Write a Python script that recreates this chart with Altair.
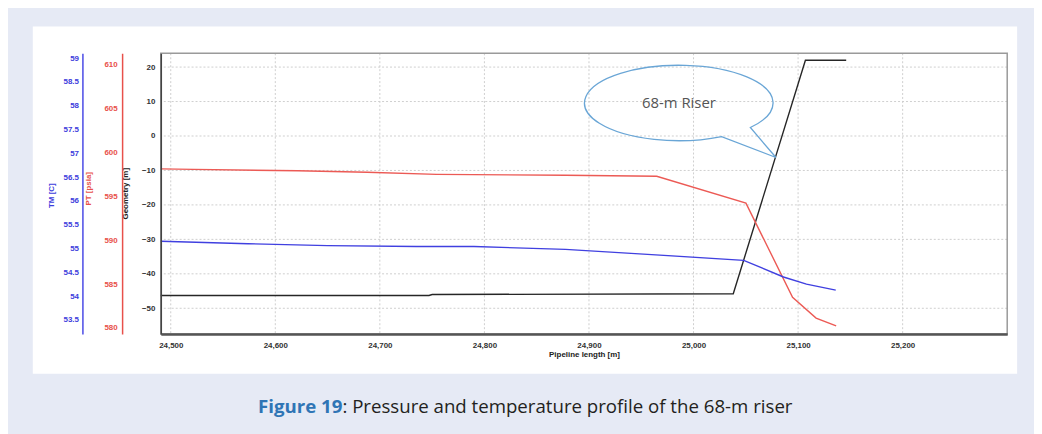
import altair as alt
import pandas as pd

# ---- data ----
x_ticks = [24500, 24600, 24700, 24800, 24900, 25000, 25100, 25200]
geo_ticks = [-50, -40, -30, -20, -10, 0, 10, 20]
pt_ticks = [580, 585, 590, 595, 600, 605, 610]
tm_ticks = [53.5, 54, 54.5, 55, 55.5, 56, 56.5, 57, 57.5, 58, 58.5, 59]

geo_x = [24490.5, 24747, 24750, 25038, 25107, 25146]
geo_y = [-46.3, -46.3, -46.0, -45.8, 22.0, 22.0]

pt_x = [24490.5, 24521.8, 24621.4, 24687.8, 24754.2, 24877.5, 24964.8, 25050.1, 25094.7, 25117.2, 25136.4]
pt_y = [598.10, 598.05, 597.88, 597.71, 597.48, 597.37, 597.26, 594.21, 583.50, 581.13, 580.23]

tm_x = [24490.5, 24574, 24650, 24735, 24790, 24877.5, 24956, 25048, 25086, 25108, 25136]
tm_y = [55.15, 55.10, 55.06, 55.04, 55.04, 54.98, 54.875, 54.75, 54.40, 54.25, 54.125]

callout_x = [24986]
callout_y = [9.6]
callout_text = ["68-m Riser"]

caption_bold = ["Figure 19"]
caption_rest = [": Pressure and temperature profile of the 68-m riser"]

# ---- styling ----
LAV = "#e6eaf5"
FONT = "Liberation Sans"
W, H = 853, 283

xs = alt.Scale(domain=[24490.5, 25300], nice=False, zero=False)
geo_s = alt.Scale(domain=[-57.5, 24], nice=False, zero=False)
pt_s = alt.Scale(domain=[579.3, 611.25], nice=False, zero=False)
tm_s = alt.Scale(domain=[53.2, 59.1], nice=False, zero=False)

x_axis = alt.Axis(
    values=x_ticks, format=",d", title="Pipeline length [m]", grid=False, zindex=1,
    ticks=False, labelPadding=7, titlePadding=2, labelFont=FONT, labelFontSize=8,
    labelFontWeight="bold", labelColor="#333333", titleFont=FONT, titleFontSize=8,
    titleFontWeight="bold", titleColor="#222222", domainColor="#555555",
    domainWidth=2.5)

def X(field):
    return alt.X(field, scale=xs, axis=x_axis)

one = pd.DataFrame({"a": [0]})

bg_lav = alt.Chart(one).mark_rect(fill=LAV).encode(
    x=alt.value(-154), x2=alt.value(880), y=alt.value(-44), y2=alt.value(382))
bg_white = alt.Chart(one).mark_rect(fill="#ffffff").encode(
    x=alt.value(-129), x2=alt.value(863), y=alt.value(-27), y2=alt.value(323))
frame = alt.Chart(one).mark_rect(fillOpacity=0, stroke="#9a9a9a", strokeWidth=1.5).encode(
    x=alt.value(0), x2=alt.value(W), y=alt.value(0), y2=alt.value(H))

vgrid = alt.Chart(pd.DataFrame({"v": x_ticks})).mark_rule(
    color="#cfcfcf", strokeDash=[2, 2], strokeWidth=1).encode(
    x=X("v:Q"))
hgrid = alt.Chart(pd.DataFrame({"v": geo_ticks})).mark_rule(
    color="#cfcfcf", strokeDash=[2, 2], strokeWidth=1).encode(
    y=alt.Y("v:Q", scale=geo_s, axis=None))

geo_line = alt.Chart(pd.DataFrame({"x": geo_x, "y": geo_y})).mark_line(
    color="#262626", strokeWidth=1.4).encode(
    x=X("x:Q"),
    y=alt.Y("y:Q", scale=geo_s, axis=alt.Axis(
        values=geo_ticks, orient="left", title="Geometry [m]", grid=False, zindex=1,
        ticks=False, labelPadding=6, labelFont=FONT, labelFontSize=8,
        labelFontWeight="bold", labelColor="#333333", titleFont=FONT, titleFontSize=8,
        titleFontWeight="bold", titleColor="#222222", titleX=-36, titleY=141,
        titleBaseline="middle", titleAngle=-90, domainColor="#444444", domainWidth=1.5)))

bubble_path = "M 0.453 0.357 A 1 0.4 0 1 1 0.758 0.261 L 1.03 0.579 Z"
callout_df = pd.DataFrame({"x": callout_x, "y": callout_y, "t": callout_text})
bubble = alt.Chart(callout_df).mark_point(
    shape=bubble_path, size=36100, filled=False, stroke="#6aa6d6",
    strokeWidth=1.3, opacity=1).encode(
    x=X("x:Q"), y=alt.Y("y:Q", scale=geo_s, axis=None))
callout_label = alt.Chart(callout_df).mark_text(
    font="Open Sans", fontSize=15, color="#555555").encode(
    x=X("x:Q"), y=alt.Y("y:Q", scale=geo_s, axis=None),
    text="t:N")

RED = "#e8504a"
pt_line = alt.Chart(pd.DataFrame({"x": pt_x, "y": pt_y})).mark_line(
    color="#ec5a55", strokeWidth=1.4).encode(
    x=X("x:Q"),
    y=alt.Y("y:Q", scale=pt_s, axis=alt.Axis(
        values=pt_ticks, orient="left", offset=39, title="PT [psia]", grid=False, zindex=1,
        ticks=False, labelPadding=5, labelFont=FONT, labelFontSize=8,
        labelFontWeight="bold", labelColor=RED, titleFont=FONT, titleFontSize=8,
        titleFontWeight="bold", titleColor=RED, titleX=-34, titleY=136,
        titleBaseline="middle", titleAngle=-90, domainColor=RED, domainWidth=1.5)))

BLUE = "#3c3cdc"
tm_line = alt.Chart(pd.DataFrame({"x": tm_x, "y": tm_y})).mark_line(
    color="#4040e0", strokeWidth=1.4).encode(
    x=X("x:Q"),
    y=alt.Y("y:Q", scale=tm_s, axis=alt.Axis(
        values=tm_ticks, format="~g", orient="left", offset=79, title="TM [C]", grid=False,
        zindex=1, ticks=False, labelPadding=4, labelFont=FONT, labelFontSize=8,
        labelFontWeight="bold", labelColor=BLUE, titleFont=FONT, titleFontSize=8,
        titleFontWeight="bold", titleColor=BLUE, titleX=-31, titleY=143,
        titleBaseline="middle", titleAngle=-90, domainColor="#4a4ae6", domainWidth=1.5)))

cap1 = alt.Chart(pd.DataFrame({"t": caption_bold})).mark_text(
    font="Open Sans", fontSize=18.8, fontWeight="bold", color="#2f75b5",
    align="right", baseline="middle").encode(
    x=alt.value(183), y=alt.value(357), text="t:N")
cap2 = alt.Chart(pd.DataFrame({"t": caption_rest})).mark_text(
    font="Open Sans", fontSize=18.8, color="#231f20",
    align="left", baseline="middle").encode(
    x=alt.value(183), y=alt.value(357), text="t:N")

chart = alt.layer(
    bg_lav, bg_white, hgrid, vgrid, frame, geo_line, pt_line, tm_line,
    bubble, callout_label, cap1, cap2
).resolve_scale(y="independent").properties(
    width=W, height=H, padding=0, background=LAV
).configure_view(stroke=None)

chart.save("out.html", embed_options={"renderer": "svg", "actions": False})
